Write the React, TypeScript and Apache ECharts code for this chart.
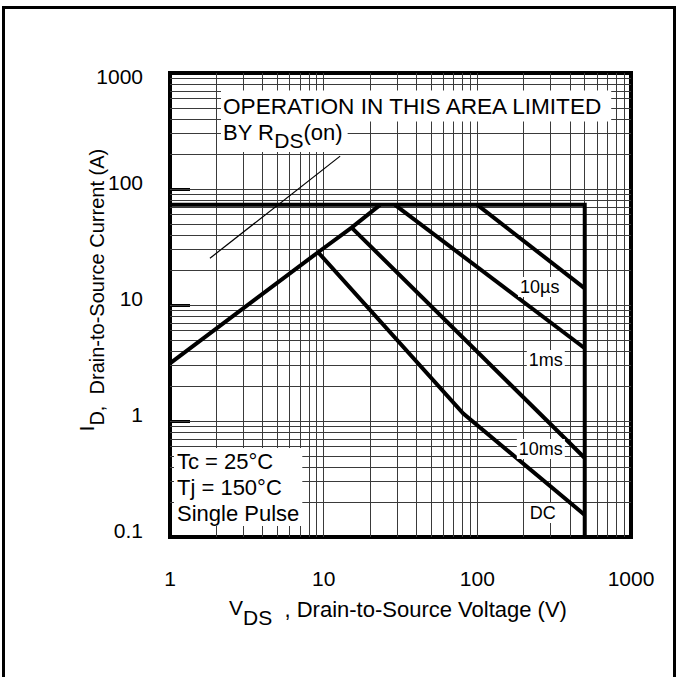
import React, { useEffect, useRef } from 'react';
import * as echarts from 'echarts';

// ---- data ----
const xTicks = [1, 10, 100, 1000];
const yTicks = [0.1, 1, 10, 100, 1000];
const minorMultipliers = [2, 3, 4, 5, 6, 7, 8, 9];

const limitLine = [[1, 73], [500, 73], [500, 0.1]];
const riseLine = [[1, 3.14], [9.2, 28.5], [15.2, 46.5], [23.3, 73]];
const curve10us = [[100, 73], [500, 13.9]];
const curve1ms = [[29.1, 73], [500, 4.24]];
const curve10ms = [[15.2, 46.5], [381, 0.686], [500, 0.48]];
const curveDC = [[9.2, 28.5], [81, 1.16], [500, 0.155]];
const rdsLine = [[1.82, 25.3], [12.8, 192]];

const curveLabelNames = ['10µs', '1ms', '10ms', 'DC'];
const curveLabelPos = [[255, 14.3], [279, 3.36], [259, 0.574], [267, 0.161]];

const F = '"Liberation Sans", Arial, Helvetica, sans-serif';

function gridValues(ticks: number[]) {
  const out: number[] = [];
  for (let i = 0; i < ticks.length - 1; i++) {
    if (i > 0) out.push(ticks[i]);
    for (const m of minorMultipliers) out.push(ticks[i] * m);
  }
  return out;
}

const tok = (size: number, pad: number) => ({
  fontFamily: F,
  fontSize: size,
  padding: [0, 0, pad, 0],
  verticalAlign: 'bottom',
  fill: '#000',
});

export default function App() {
  const ref = useRef<HTMLDivElement>(null);
  useEffect(() => {
    if (!ref.current) return;
    const chart = echarts.init(ref.current, null, { renderer: 'svg' });
    const xMin = xTicks[0], xMax = xTicks[xTicks.length - 1];
    const yMin = yTicks[0], yMax = yTicks[yTicks.length - 1];
    const gridData = [
      ...gridValues(xTicks).map((x) => ({ coords: [[x, yMin], [x, yMax]] })),
      ...gridValues(yTicks).map((y) => ({ coords: [[xMin, y], [xMax, y]] })),
    ];
    const thick = (data: number[][], w = 4) => ({
      type: 'line',
      data,
      showSymbol: false,
      symbol: 'none',
      z: 3,
      lineStyle: { color: '#000', width: w, cap: 'butt', join: 'miter' },
      silent: true,
    });
    const fmt = (v: number) => (v < 1 ? v.toFixed(1) : String(Math.round(v)));
    chart.setOption({
      animation: false,
      grid: {
        left: 170,
        top: 73,
        width: 461,
        height: 464,
        show: true,
        borderColor: '#000',
        borderWidth: 4,
        backgroundColor: 'transparent',
      },
      xAxis: {
        type: 'log',
        logBase: 10,
        min: xMin,
        max: xMax,
        axisLine: { show: false },
        axisTick: { show: false },
        splitLine: { show: false },
        minorSplitLine: { show: false },
        axisLabel: {
          margin: 31,
          fontSize: 21,
          fontFamily: F,
          color: '#000',
          formatter: (v: number) => fmt(v),
        },
      },
      yAxis: {
        type: 'log',
        logBase: 10,
        min: yMin,
        max: yMax,
        axisLine: { show: false },
        axisTick: { show: true, inside: true, length: 20, lineStyle: { color: '#000', width: 3 } },
        splitLine: { show: false },
        axisLabel: {
          margin: 27,
          fontSize: 21,
          fontFamily: F,
          color: '#000',
          formatter: (v: number) => (v >= 1000 ? `{n|${fmt(v)}}` : `{u|${fmt(v)}}`),
          rich: {
            n: { fontSize: 21, fontFamily: F, color: '#000', padding: [6, 0, 0, 0] },
            u: { fontSize: 21, fontFamily: F, color: '#000', padding: [0, 0, 14, 0] },
          },
        },
      },
      series: [
        {
          type: 'lines',
          coordinateSystem: 'cartesian2d',
          polyline: false,
          silent: true,
          z: 1,
          lineStyle: { color: '#3a3a3a', width: 1, opacity: 1, curveness: 0 },
          data: gridData,
        },
        thick(limitLine),
        thick(riseLine),
        thick(curve10us),
        thick(curve1ms),
        thick(curve10ms),
        thick(curveDC),
        thick(rdsLine, 1.2),
        {
          type: 'scatter',
          z: 6,
          symbolSize: 0,
          itemStyle: { color: 'rgba(0,0,0,0)' },
          silent: true,
          data: curveLabelNames.map((n, i) => ({ name: n, value: curveLabelPos[i] })),
          label: {
            show: true,
            position: 'inside',
            formatter: (p: any) => p.name,
            fontFamily: F,
            fontSize: 18,
            color: '#000',
            opacity: 1,
            textBorderWidth: 0,
            backgroundColor: '#fff',
            padding: [1, 2],
          },
        },
      ],
      graphic: [
        {
          type: 'rect',
          z: 100,
          silent: true,
          shape: { x: 3.5, y: 7.5, width: 671, height: 720 },
          style: { fill: 'none', stroke: '#000', lineWidth: 3 },
        },
        {
          type: 'text',
          z: 50,
          x: 221,
          y: 106,
          style: {
            text: 'OPERATION IN THIS AREA LIMITED',
            font: `22.6px ${F}`,
            fill: '#000',
            align: 'left',
            verticalAlign: 'middle',
            backgroundColor: '#fff',
            padding: [4, 7, 4, 2],
          },
        },
        {
          type: 'text',
          z: 50,
          x: 221,
          y: 136,
          style: {
            text: '{a|BY R}{b|DS}{a|(on)}',
            rich: { a: tok(22, 8), b: tok(21, 0) },
            font: `22px ${F}`,
            fill: '#000',
            align: 'left',
            verticalAlign: 'middle',
            backgroundColor: '#fff',
            padding: [1, 5, 1, 2],
          },
        },
        {
          type: 'text',
          z: 50,
          x: 174,
          y: 487,
          style: {
            text: 'Tc = 25°C\nTj = 150°C\nSingle Pulse',
            font: `22px ${F}`,
            lineHeight: 26,
            fill: '#000',
            align: 'left',
            verticalAlign: 'middle',
            backgroundColor: '#fff',
            padding: [0, 3, 0, 3],
          },
        },
        {
          type: 'text',
          z: 50,
          x: 398,
          y: 612,
          style: {
            text: '{v|V}{s|DS}{t|  , Drain-to-Source Voltage (V)}',
            rich: { v: tok(21, 10), s: tok(21, 0), t: tok(22, 7) },
            font: `22px ${F}`,
            fill: '#000',
            align: 'center',
            verticalAlign: 'middle',
          },
        },
        {
          type: 'text',
          z: 50,
          x: 92,
          y: 290,
          rotation: Math.PI / 2,
          style: {
            text: '{i|I}{d|D}{r|,  Drain-to-Source Current (A)}',
            rich: { i: tok(20, 10), d: tok(20, 0), r: tok(20, 0) },
            font: `20px ${F}`,
            fill: '#000',
            align: 'center',
            verticalAlign: 'middle',
          },
        },
      ],
    });
    return () => chart.dispose();
  }, []);
  return (
    <div
      ref={ref}
      style={{ position: 'fixed', left: 0, top: 0, width: 680, height: 677, background: '#fff' }}
    />
  );
}
